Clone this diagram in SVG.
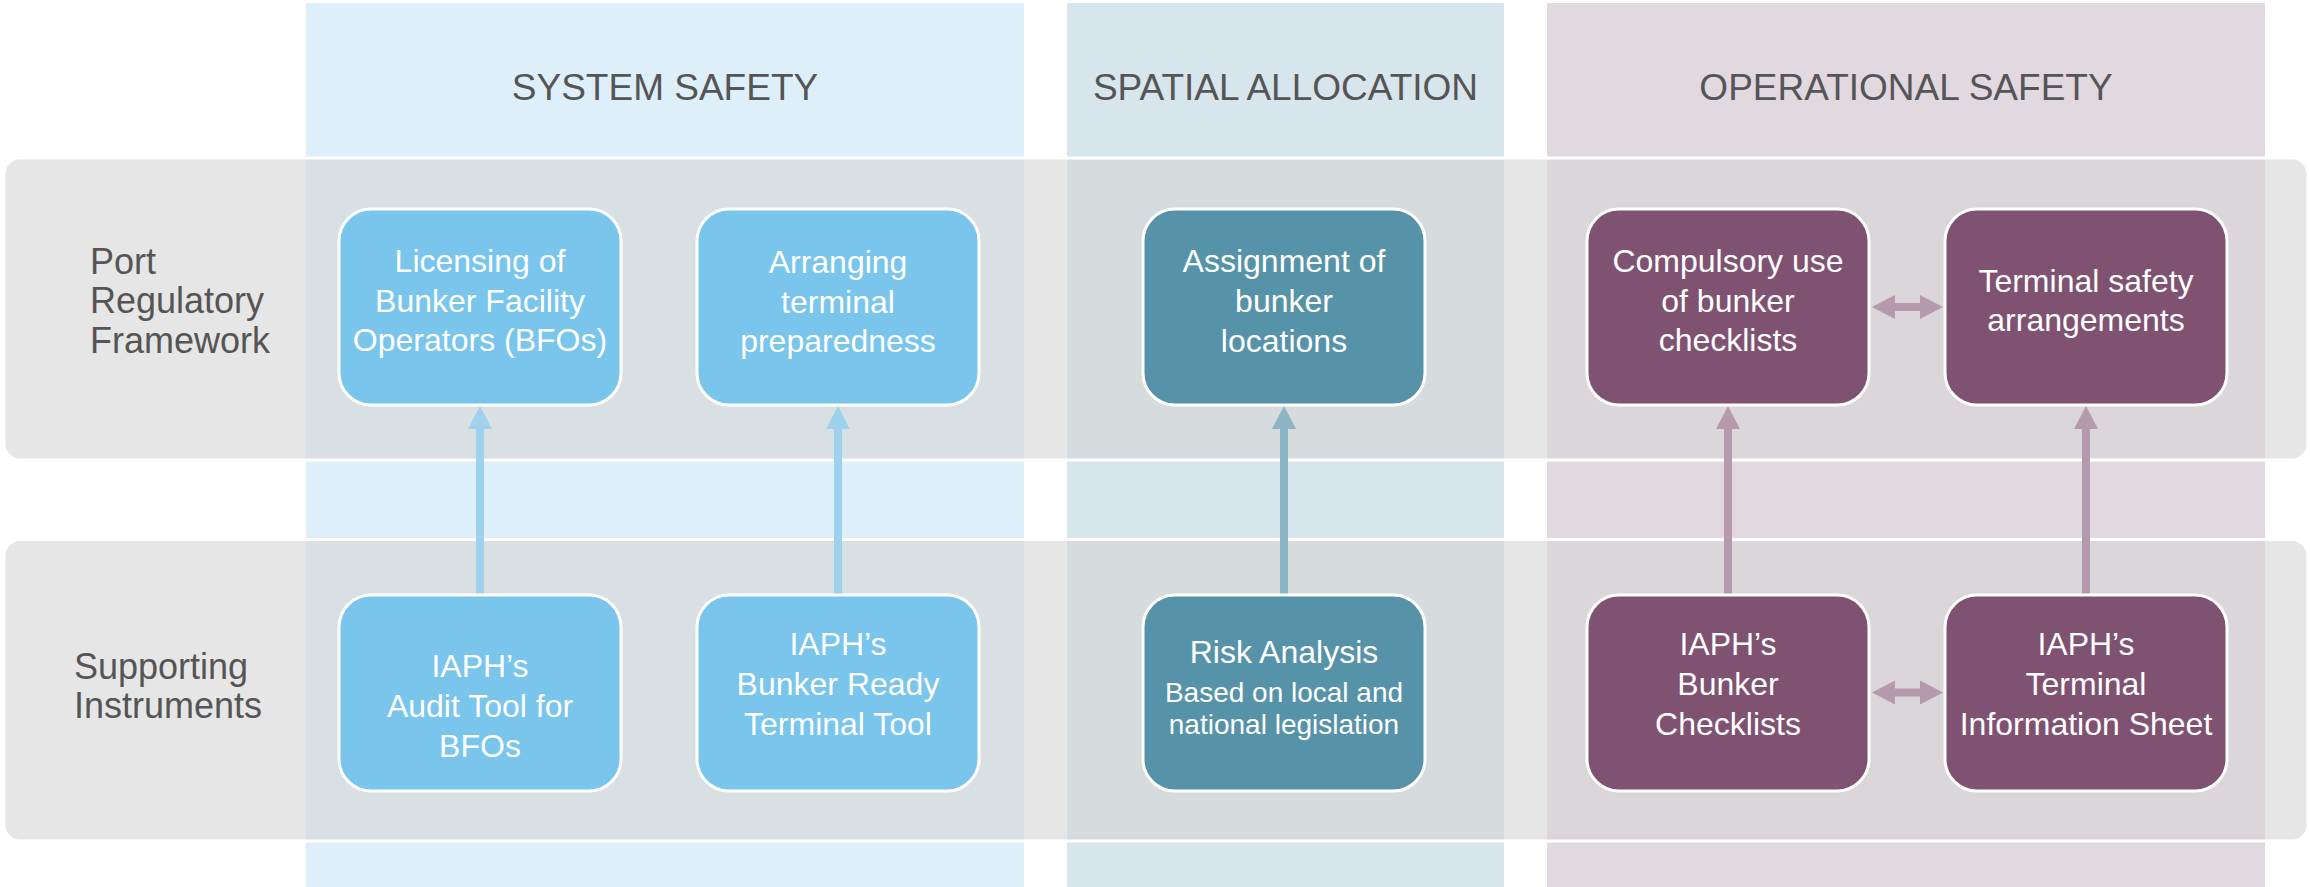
<svg xmlns="http://www.w3.org/2000/svg" width="2310" height="887" viewBox="0 0 2310 887">
<style>
.hdr{font-family:"Liberation Sans",Arial,sans-serif;font-size:37px;fill:#555555;text-anchor:middle}
.lbl{font-family:"Liberation Sans",Arial,sans-serif;font-size:36px;fill:#555555}
.nt{font-family:"Liberation Sans",Arial,sans-serif;font-size:32px;fill:#ffffff;text-anchor:middle}
.ns{font-size:28px}
.row{fill:#d5d5d5;fill-opacity:0.6;stroke:#ffffff;stroke-width:3}
.box{stroke:#ffffff;stroke-width:3}
.b{fill:#79c5ec}
.t{fill:#5793a8}
.p{fill:#7f5272}
.cb{stroke:#9dd1ee;stroke-width:8;fill:none}
.ct{stroke:#8bb5c4;stroke-width:8;fill:none}
.cp{stroke:#b59aae;stroke-width:8;fill:none}
</style>
<defs>
<marker id="mB" markerUnits="userSpaceOnUse" markerWidth="23" markerHeight="24" refX="0" refY="12" orient="auto-start-reverse" viewBox="0 0 23 24"><path d="M0,0 L23,12 L0,24 Z" fill="#9dd1ee"/></marker>
<marker id="mT" markerUnits="userSpaceOnUse" markerWidth="23" markerHeight="24" refX="0" refY="12" orient="auto-start-reverse" viewBox="0 0 23 24"><path d="M0,0 L23,12 L0,24 Z" fill="#8bb5c4"/></marker>
<marker id="mP" markerUnits="userSpaceOnUse" markerWidth="23" markerHeight="24" refX="0" refY="12" orient="auto-start-reverse" viewBox="0 0 23 24"><path d="M0,0 L23,12 L0,24 Z" fill="#b59aae"/></marker>
</defs>
<rect width="2310" height="887" fill="#ffffff"/>
<g id="columns">
<rect id="col-system" x="306" y="3" width="718" height="884" fill="#ddeff9"/>
<rect id="col-spatial" x="1067" y="3" width="437" height="884" fill="#d7e5ec"/>
<rect id="col-operational" x="1547" y="3" width="718" height="884" fill="#e2d8e0"/>
<text class="hdr" x="665" y="100">SYSTEM SAFETY</text>
<text class="hdr" x="1285.5" y="100">SPATIAL ALLOCATION</text>
<text class="hdr" x="1906" y="100">OPERATIONAL SAFETY</text>
</g>
<g id="rows">
<rect id="row-framework" class="row" x="4" y="158" width="2304" height="302" rx="16"/>
<rect id="row-instruments" class="row" x="4" y="539.5" width="2304" height="301.5" rx="16"/>
<text class="lbl" x="90" y="274">Port</text>
<text class="lbl" x="90" y="313">Regulatory</text>
<text class="lbl" x="90" y="353">Framework</text>
<text class="lbl" x="74" y="679">Supporting</text>
<text class="lbl" x="74" y="718">Instruments</text>
</g>
<g id="connectors">
<line class="cb" x1="480" y1="594" x2="480" y2="429" marker-end="url(#mB)"/>
<line class="cb" x1="838" y1="594" x2="838" y2="429" marker-end="url(#mB)"/>
<line class="ct" x1="1284" y1="594" x2="1284" y2="429" marker-end="url(#mT)"/>
<line class="cp" x1="1728" y1="594" x2="1728" y2="429" marker-end="url(#mP)"/>
<line class="cp" x1="2086" y1="594" x2="2086" y2="429" marker-end="url(#mP)"/>
<line class="cp" x1="1895" y1="307" x2="1920" y2="307" marker-start="url(#mP)" marker-end="url(#mP)"/>
<line class="cp" x1="1895" y1="692.5" x2="1920" y2="692.5" marker-start="url(#mP)" marker-end="url(#mP)"/>
</g>
<g id="n-licensing">
<rect class="box b" x="339" y="209" width="282" height="196" rx="32"/>
<text class="nt" x="480" y="272">Licensing of</text>
<text class="nt" x="480" y="312">Bunker Facility</text>
<text class="nt" x="480" y="351">Operators (BFOs)</text>
</g>
<g id="n-arranging">
<rect class="box b" x="697" y="209" width="282" height="196" rx="32"/>
<text class="nt" x="838" y="273">Arranging</text>
<text class="nt" x="838" y="313">terminal</text>
<text class="nt" x="838" y="352">preparedness</text>
</g>
<g id="n-assignment">
<rect class="box t" x="1143" y="209" width="282" height="196" rx="32"/>
<text class="nt" x="1284" y="272">Assignment of</text>
<text class="nt" x="1284" y="312">bunker</text>
<text class="nt" x="1284" y="352">locations</text>
</g>
<g id="n-compulsory">
<rect class="box p" x="1587" y="209" width="282" height="196" rx="32"/>
<text class="nt" x="1728" y="272">Compulsory use</text>
<text class="nt" x="1728" y="312">of bunker</text>
<text class="nt" x="1728" y="351">checklists</text>
</g>
<g id="n-terminal-safety">
<rect class="box p" x="1945" y="209" width="282" height="196" rx="32"/>
<text class="nt" x="2086" y="292">Terminal safety</text>
<text class="nt" x="2086" y="331">arrangements</text>
</g>
<g id="n-audit">
<rect class="box b" x="339" y="595" width="282" height="196" rx="32"/>
<text class="nt" x="480" y="677">IAPH’s</text>
<text class="nt" x="480" y="717">Audit Tool for</text>
<text class="nt" x="480" y="757">BFOs</text>
</g>
<g id="n-bunker-ready">
<rect class="box b" x="697" y="595" width="282" height="196" rx="32"/>
<text class="nt" x="838" y="655">IAPH’s</text>
<text class="nt" x="838" y="695">Bunker Ready</text>
<text class="nt" x="838" y="735">Terminal Tool</text>
</g>
<g id="n-risk">
<rect class="box t" x="1143" y="595" width="282" height="196" rx="32"/>
<text class="nt" x="1284" y="663">Risk Analysis</text>
<text class="nt ns" x="1284" y="702">Based on local and</text>
<text class="nt ns" x="1284" y="734">national legislation</text>
</g>
<g id="n-checklists">
<rect class="box p" x="1587" y="595" width="282" height="196" rx="32"/>
<text class="nt" x="1728" y="655">IAPH’s</text>
<text class="nt" x="1728" y="695">Bunker</text>
<text class="nt" x="1728" y="735">Checklists</text>
</g>
<g id="n-info-sheet">
<rect class="box p" x="1945" y="595" width="282" height="196" rx="32"/>
<text class="nt" x="2086" y="655">IAPH’s</text>
<text class="nt" x="2086" y="695">Terminal</text>
<text class="nt" x="2086" y="735">Information Sheet</text>
</g>
</svg>
